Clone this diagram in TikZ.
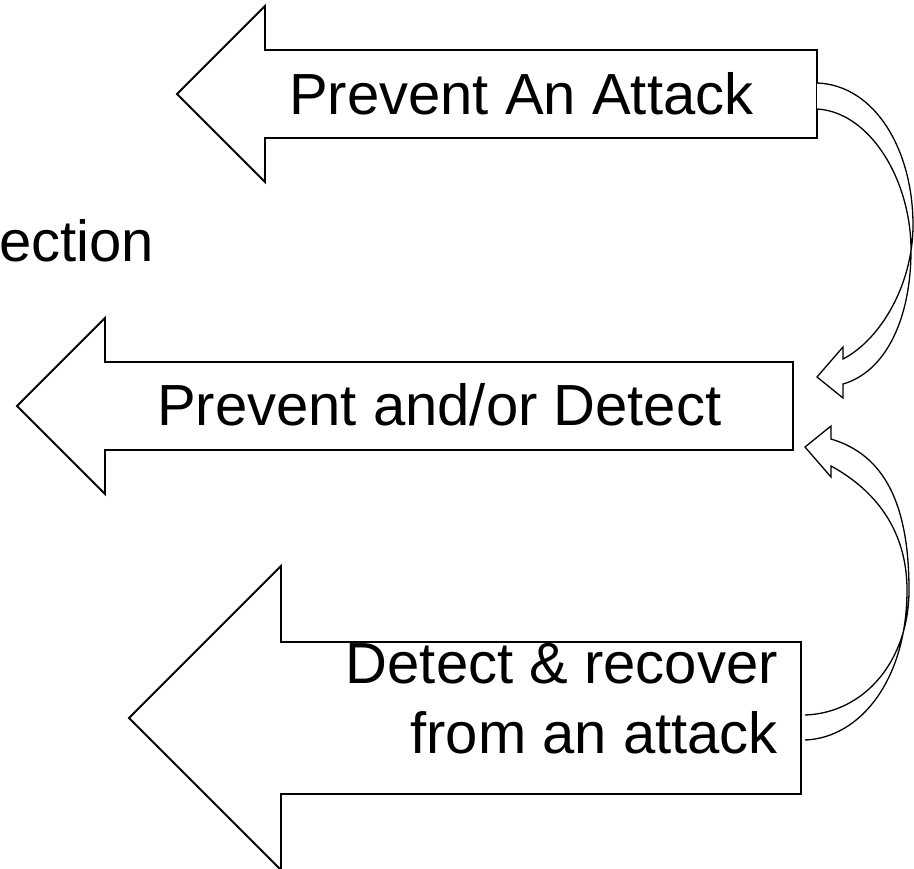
\documentclass[tikz,border=0pt]{standalone}
\usepackage{fontspec}
\setmainfont{Liberation Sans}
\usepackage{tikz}

\tikzset{
  blockarrow/.style={draw=black, fill=white, line width=1.8pt, line join=miter},
  bentarrow/.style={draw=black, fill=white, line width=1.3pt, line join=miter},
  arrowtext/.style={inner sep=0pt, font=\fontsize{58}{69}\selectfont}
}

\begin{document}
\begin{tikzpicture}[x=1pt, y=-1pt]
\useasboundingbox (0,0) rectangle (914,869);

% the three block arrows
\draw[blockarrow] (817,50) -- (265,50) -- (265,6) -- (177,94) -- (265,182) -- (265,138) -- (817,138) -- cycle;
\draw[blockarrow] (793,362) -- (105,362) -- (105,318) -- (17,406) -- (105,494) -- (105,450) -- (793,450) -- cycle;
\draw[blockarrow] (801,642) -- (281,642) -- (281,566) -- (129,718) -- (281,870) -- (281,794) -- (801,794) -- cycle;

\node[arrowtext, anchor=base west] (attack) at (289,115) {Prevent An Attack};
\node[arrowtext, anchor=base west] (detect) at (157,425) {Prevent and/or Detect};
\node[arrowtext, anchor=base east] (recover) at (778,683) {Detect \& recover};
\node[arrowtext, anchor=base east] (from) at (778,753) {from an attack};
\node[arrowtext, anchor=base east] (ection) at (154,262) {ection};

% curved arrow from top to middle
\coordinate (tA) at (817,83);
\coordinate (tB) at (817,109);
\draw[bentarrow] (tA) .. controls (875,85) and (913,150) .. (913,225)
  .. controls (913,285) and (880,340) .. (843,359)
  -- (843,347) -- (817,377) -- (843,398) -- (843,384)
  .. controls (885,372) and (911,320) .. (911,250)
  .. controls (911,180) and (870,112) .. (tB);

% curved arrow from bottom to middle
\coordinate (bA) at (805,715);
\coordinate (bB) at (805,740);
\draw[bentarrow] (bA) .. controls (865,713) and (909,660) .. (909,590)
  .. controls (909,505) and (885,455) .. (831,439)
  -- (831,426) -- (805,447) -- (831,477) -- (831,466)
  .. controls (875,490) and (907,530) .. (907,590)
  .. controls (907,680) and (860,738) .. (bB);
\end{tikzpicture}
\end{document}
